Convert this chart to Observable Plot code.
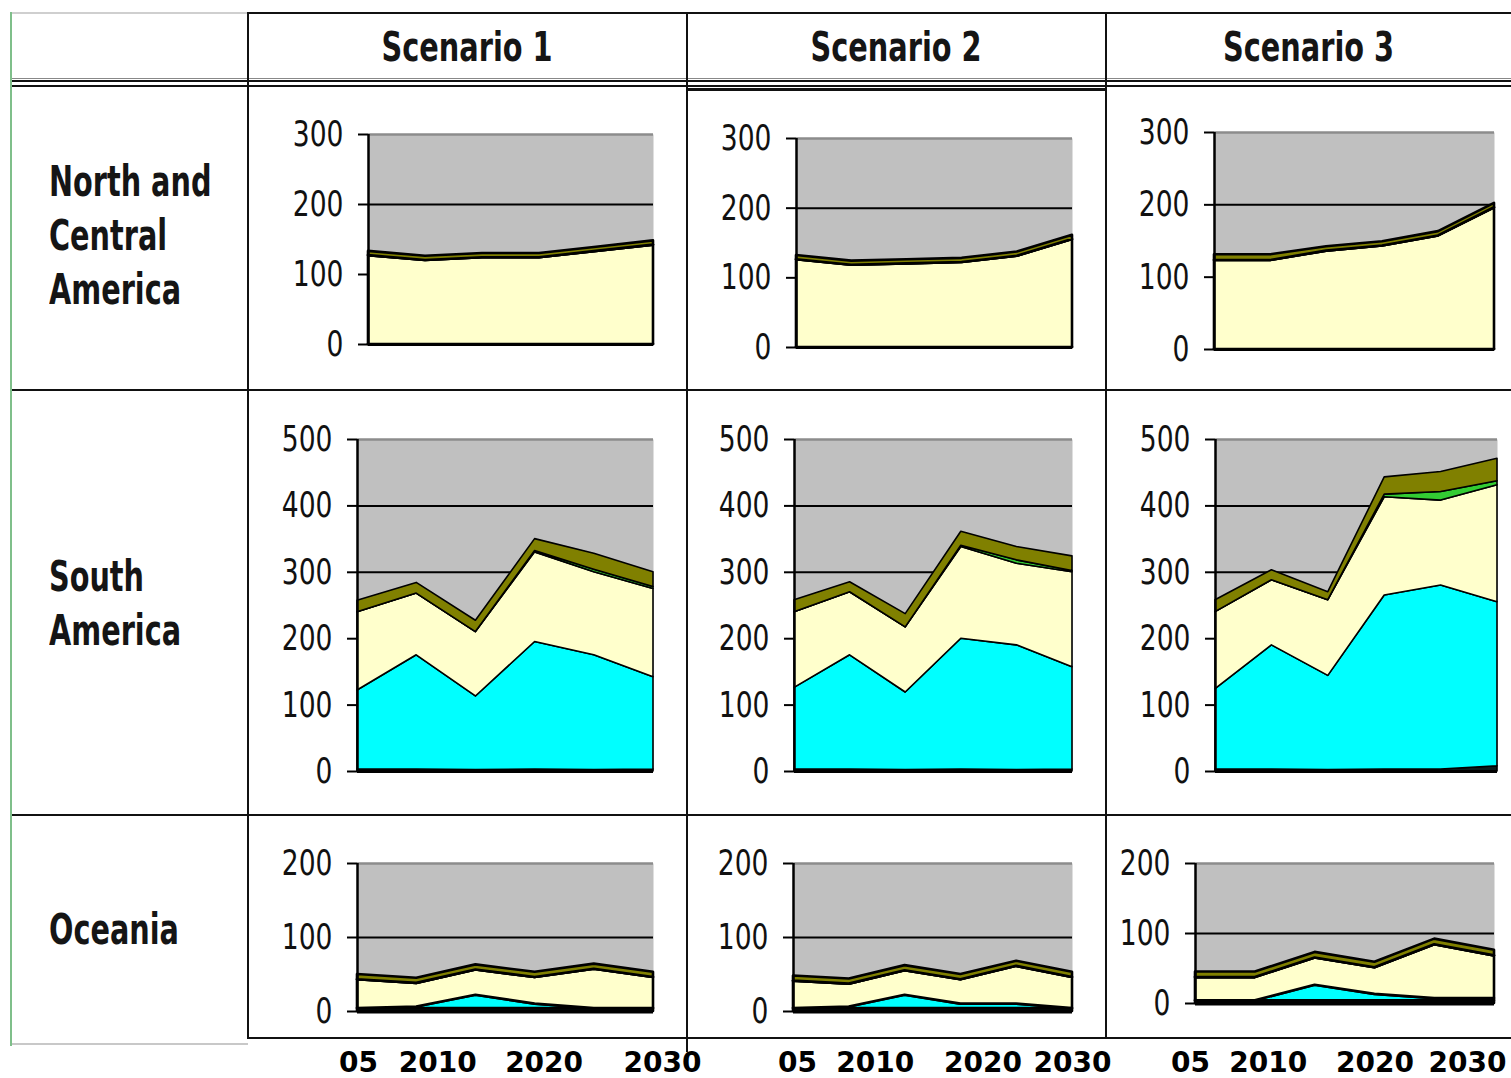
<!DOCTYPE html>
<html><head><meta charset="utf-8">
<script src="https://cdn.jsdelivr.net/npm/d3@7"></script>
<script src="https://cdn.jsdelivr.net/npm/@observablehq/plot@0.6"></script>
<style>
body{margin:0;background:#fff;}
#root{position:relative;width:1511px;height:1078px;overflow:hidden;background:#fff;}
.ln{position:absolute;}
.lbl{position:absolute;font-family:"Liberation Sans Narrow","Arial Narrow","DejaVu Sans Condensed",sans-serif;font-weight:bold;font-size:42px;color:#151515;line-height:54px;white-space:nowrap;}
.panel{position:absolute;}
.panel svg{overflow:visible;background:transparent;}
</style></head><body><div id="root"></div>
<script>
// ---------------- data ----------------
const years = [2005, 2010, 2015, 2020, 2025, 2030];
const regions = ["North and Central America", "South America", "Oceania"];
const regionLines = [["North and", "Central", "America"], ["South", "America"], ["Oceania"]];
const scenarios = ["Scenario 1", "Scenario 2", "Scenario 3"];
const yMax = [300, 500, 200];
const yTicks = [[0, 100, 200, 300], [0, 100, 200, 300, 400, 500], [0, 100, 200]];
const xTickYears = [2005, 2010, 2020, 2030];
const xTickLabels = ["05", "2010", "2020", "2030"];
const seriesNames = ["Series 1", "Series 2", "Series 3", "Series 4", "Series 5"];
// panels in order: NCA S1, NCA S2, NCA S3, SA S1, SA S2, SA S3, OC S1, OC S2, OC S3
const series1Values = [
  [0, 0, 0, 0, 0, 0], [0, 0, 0, 0, 0, 0], [0, 0, 0, 0, 0, 0],
  [3, 3, 2, 3, 2, 3], [3, 3, 2, 3, 2, 3], [3, 3, 2, 3, 3, 8],
  [4, 4, 4, 4, 4, 4], [4, 4, 4, 4, 4, 4], [4, 4, 4, 4, 4, 4]];
const series2Values = [
  [0, 0, 0, 0, 0, 0], [0, 0, 0, 0, 0, 0], [0, 0, 0, 0, 0, 0],
  [119, 172, 111, 192, 173, 139], [123, 172, 117, 197, 188, 154], [121, 187, 142, 262, 277, 247],
  [0, 2, 18, 6, 0, 0], [0, 2, 18, 6, 6, 0], [0, 0, 22, 9, 3, 3]];
const series3Values = [
  [127, 120, 124, 124, 133, 142], [126, 118, 120, 122, 131, 155], [123, 123, 136, 143, 157, 196],
  [118, 93, 97, 135, 125, 133], [114, 95, 98, 138, 123, 143], [116, 98, 114, 148, 128, 176],
  [39, 32, 34, 36, 53, 42], [37, 31, 33, 33, 51, 42], [33, 33, 39, 38, 77, 61]];
const series4Values = [
  [0, 0, 0, 0, 0, 0], [0, 0, 0, 0, 0, 0], [0, 0, 0, 0, 0, 0],
  [0, 0, 0, 2, 4, 3], [0, 0, 0, 2, 5, 2], [0, 0, 0, 4, 13, 6],
  [0, 0, 0, 0, 0, 0], [0, 0, 0, 0, 0, 0], [0, 0, 0, 0, 0, 0]];
const series5Values = [
  [6, 6, 6, 6, 6, 6], [6, 6, 6, 6, 6, 6], [8, 8, 6, 6, 6, 6],
  [17, 16, 17, 18, 24, 22], [18, 15, 20, 21, 20, 22], [18, 15, 12, 26, 30, 34],
  [7, 7, 7, 7, 7, 7], [7, 7, 7, 7, 7, 7], [8, 8, 8, 8, 8, 8]];
const allSeries = [series1Values, series2Values, series3Values, series4Values, series5Values];

// ---------------- layout / style ----------------
const seriesColors = ["#0b1c1c", "#00ffff", "#ffffcc", "#33cc33", "#808000"];
const frames = [
  [{L: 368, R: 653, T: 134, B: 344}, {L: 796, R: 1072, T: 138, B: 347}, {L: 1214, R: 1494, T: 132, B: 349}],
  [{L: 357, R: 653, T: 439, B: 771}, {L: 794, R: 1072, T: 439, B: 771}, {L: 1215, R: 1497, T: 439, B: 771}],
  [{L: 357, R: 653, T: 863, B: 1011}, {L: 793, R: 1072, T: 863, B: 1011}, {L: 1195, R: 1494, T: 863, B: 1003}]];
const xLabelShift = [[1, 21, 9, 9], [4, 26, 22, 0], [-5, 13, 0, -27]];
const narrow = '"Liberation Sans Narrow","Arial Narrow","DejaVu Sans Condensed",sans-serif';

const root = document.getElementById("root");
function line(x, y, w, h, color) {
  const d = document.createElement("div");
  d.className = "ln";
  Object.assign(d.style, {left: x + "px", top: y + "px", width: w + "px", height: h + "px", background: color});
  root.appendChild(d);
}
// table grid
line(10, 12, 2, 1034, "#7fbf8a");
line(12, 12, 236, 2, "#cfcfcf");
line(248, 12, 1263, 2, "#111");
line(12, 78, 1499, 1, "#888");
line(12, 80, 1499, 2, "#111");
line(12, 85, 1499, 2, "#111");
line(686, 88, 420, 3, "#111");
line(247, 12, 2, 1027, "#111");
line(686, 12, 2, 1040, "#111");
line(1105, 12, 2, 1027, "#111");
line(12, 389, 1499, 2, "#111");
line(12, 814, 1499, 2, "#111");
line(248, 1037, 1263, 2, "#111");
line(12, 1043, 236, 2, "#c8c8c8");

// headers
const colCells = [[248, 686], [686, 1106], [1106, 1511]];
scenarios.forEach((s, c) => {
  const d = document.createElement("div");
  d.className = "lbl";
  d.textContent = s;
  Object.assign(d.style, {left: colCells[c][0] + "px", width: (colCells[c][1] - colCells[c][0]) + "px", textAlign: "center", top: "20px", fontSize: "40px", transform: "scaleX(0.8)", transformOrigin: "center"});
  root.appendChild(d);
});
const rowTops = [155, 550, 903];
regionLines.forEach((lines, r) => {
  const d = document.createElement("div");
  d.className = "lbl";
  d.title = regions[r];
  d.innerHTML = lines.join("<br>");
  Object.assign(d.style, {left: "49px", top: rowTops[r] + "px", transform: "scaleX(0.76)", transformOrigin: "left top"});
  root.appendChild(d);
});

// squeeze tick labels horizontally (narrow font look) around their right edge
function narrowText(svg, selector, k) {
  svg.querySelectorAll(selector).forEach(t => {
    const b = t.getBBox();
    const xr = b.x + b.width;
    const tr = t.getAttribute("transform") || "";
    t.setAttribute("transform", `${tr} translate(${xr},0) scale(${k},1) translate(${-xr},0)`);
  });
}

// panels
for (let r = 0; r < 3; r++) {
  for (let c = 0; c < 3; c++) {
    const i = r * 3 + c;
    const g = frames[r][c];
    const mL = 90, mR = 14, mT = 24;
    const mB = r === 2 ? 1078 - g.B : 14;
    const data = [];
    seriesNames.forEach((s, k) => years.forEach((y, j) => data.push({series: s, year: y, value: allSeries[k][i][j]})));
    const marks = [
      Plot.frame({fill: "#c0c0c0", stroke: null}),
      Plot.ruleY(yTicks[r].filter(t => t > 0 && t < yMax[r]), {stroke: "#000", strokeWidth: 2}),
      Plot.ruleY([yMax[r]], {stroke: "#8c8c8c", strokeWidth: 2.5}),
      Plot.areaY(data, {x: "year", y: "value", z: "series", fill: "series", order: seriesNames, stroke: "#000", strokeWidth: r === 1 ? 1.6 : 2.6, strokeLinejoin: "round"}),
      Plot.ruleX([years[0]], {stroke: "#000", strokeWidth: 2.5}),
      Plot.ruleY([0], {stroke: "#000", strokeWidth: r === 2 ? 4 : 3}),
      Plot.axisY({ticks: yTicks[r], label: null, tickSize: 10, tickPadding: 15, tickFormat: d => String(d), fontFamily: narrow, fontSize: 36, fill: "#111", stroke: "#000", strokeWidth: 2})
    ];
    if (r === 2) {
      xTickYears.forEach((yr, k) => {
        marks.push(Plot.axisX({ticks: [yr], label: null, tickSize: 0, tickPadding: 1052 - g.B, tickFormat: () => xTickLabels[k], dx: xLabelShift[c][k], fontFamily: "DejaVu Sans", fontWeight: "bold", fontSize: 28, fill: "#000"}));
      });
    }
    const w = g.R - g.L + mL + mR;
    const h = g.B - g.T + mT + mB;
    const chart = Plot.plot({
      width: w, height: h,
      marginLeft: mL, marginRight: mR, marginTop: mT, marginBottom: mB,
      style: {background: "transparent", overflow: "visible"},
      x: {type: "linear", domain: [years[0], years[years.length - 1]], axis: r === 2 ? undefined : null, label: null},
      y: {domain: [0, yMax[r]], axis: null, label: null},
      color: {domain: seriesNames, range: seriesColors},
      marks
    });
    const div = document.createElement("div");
    div.className = "panel";
    Object.assign(div.style, {left: (g.L - mL) + "px", top: (g.T - mT) + "px", width: w + "px", height: h + "px"});
    div.appendChild(chart);
    root.appendChild(div);
    narrowText(chart, 'g[aria-label="y-axis tick label"] text', 0.82);
  }
}
</script></body></html>
